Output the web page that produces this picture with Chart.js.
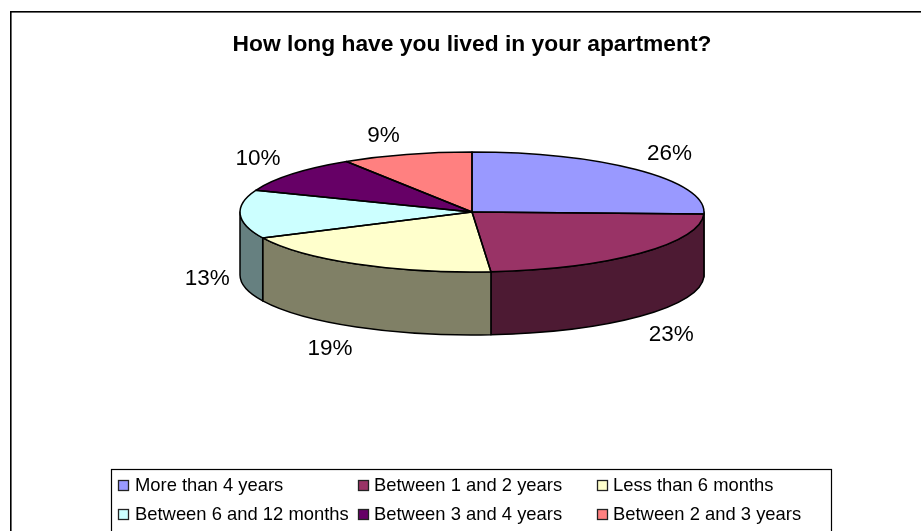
<!DOCTYPE html>
<html><head><meta charset="utf-8">
<style>html,body{margin:0;padding:0;background:#fff;overflow:hidden}canvas{display:block}</style>
<script src="https://cdn.jsdelivr.net/npm/chart.js@4"></script></head>
<body><div style="width:921px;height:531px;position:relative"><canvas id="c"></canvas></div>
<script>
const chartTitle = 'How long have you lived in your apartment?';
const categories = ['More than 4 years','Between 1 and 2 years','Less than 6 months','Between 6 and 12 months','Between 3 and 4 years','Between 2 and 3 years'];
const shares = [25.5,23.2,19.2,13.0,10.0,9.1];
const faceColors = ['#9999FF','#993366','#FFFFCC','#CCFFFF','#660066','#FF8080'];
const wallColors = ['#4D4D80','#4D1A33','#808066','#668080','#330033','#804040'];

const FONT = '"Liberation Sans", Arial, sans-serif';
const CX = 472, CY = 212, RX = 232, RY = 60, DEPTH = 63;
const LABEL_RX = 275, LABEL_RY = 84;
const labelNudges = [[0,0],[0,2],[-5,1],[10,1],[-1,0],[-11,4]];

function ellipseSeg(ctx, y, a, b, ccw){ ctx.ellipse(CX, y, RX, RY, 0, a, b, !!ccw); }

const pie3d = {
  id:'pie3d',
  beforeDraw(chart){
    const ctx = chart.ctx;
    ctx.save();
    ctx.strokeStyle = '#000'; ctx.lineWidth = 1.6;
    ctx.strokeRect(10.8, 11.8, 1000, 1000);
    ctx.restore();
  },
  beforeDatasetDraw(chart){
    const ctx = chart.ctx, arcs = chart.getDatasetMeta(0).data;
    const tau = Math.PI*2;
    // side walls: only the part of each slice in the front half of the ellipse
    ctx.save();
    ctx.lineWidth = 1.5; ctx.strokeStyle = '#000'; ctx.lineJoin='round';
    arcs.forEach((arc,i)=>{
      const p = arc.getProps(['startAngle','endAngle'], true);
      for (const k of [0, tau]) {
        const a = Math.max(p.startAngle + k, 0), b = Math.min(p.endAngle + k, Math.PI);
        if (b <= a) continue;
        ctx.beginPath();
        ellipseSeg(ctx, CY, a, b);
        ellipseSeg(ctx, CY+DEPTH, b, a, true);
        ctx.closePath();
        ctx.fillStyle = wallColors[i];
        ctx.fill(); ctx.stroke();
      }
    });
    ctx.restore();
    // flatten the library's arcs on to the top ellipse
    const a0 = arcs[0];
    ctx.save();
    ctx.translate(CX, CY);
    ctx.scale(RX/a0.outerRadius, RY/a0.outerRadius);
    ctx.translate(-a0.x, -a0.y);
  },
  afterDatasetDraw(chart){
    const ctx = chart.ctx, arcs = chart.getDatasetMeta(0).data;
    ctx.restore();
    ctx.save();
    ctx.lineWidth = 1.5; ctx.strokeStyle = '#000'; ctx.lineJoin='round';
    arcs.forEach(arc=>{
      const p = arc.getProps(['startAngle','endAngle'], true);
      ctx.beginPath();
      ctx.moveTo(CX, CY);
      ellipseSeg(ctx, CY, p.startAngle, p.endAngle);
      ctx.closePath();
      ctx.stroke();
    });
    // value labels
    ctx.fillStyle = '#000';
    ctx.font = '22.5px ' + FONT;
    ctx.textAlign = 'center'; ctx.textBaseline = 'middle';
    const total = shares.reduce((s,v)=>s+v,0);
    arcs.forEach((arc,i)=>{
      const p = arc.getProps(['startAngle','endAngle'], true);
      const m = (p.startAngle+p.endAngle)/2;
      const s = Math.sin(m);
      const x = CX + LABEL_RX*Math.cos(m) + labelNudges[i][0];
      const y = CY + LABEL_RY*s + (s>0?DEPTH:0) + labelNudges[i][1];
      ctx.fillText(Math.round(shares[i]/total*100)+'%', x, y);
    });
    ctx.restore();
  },
  afterDraw(chart){
    // legend box: three columns, two rows
    const ctx = chart.ctx;
    const L=111.5, T=469.5, R=831.5, B=540;
    const colX=[118,358,597], rowY=[485,514];
    ctx.save();
    ctx.fillStyle='#fff'; ctx.strokeStyle='#000'; ctx.lineWidth=1.2;
    ctx.fillRect(L,T,R-L,B-T); ctx.strokeRect(L,T,R-L,B-T);
    ctx.font='18.4px '+FONT; ctx.textAlign='left'; ctx.textBaseline='middle';
    categories.forEach((c,i)=>{
      const x=colX[i%3], y=rowY[Math.floor(i/3)];
      ctx.fillStyle=faceColors[i];
      ctx.fillRect(x+.5,y-4.5,10,10);
      ctx.strokeStyle='#222'; ctx.lineWidth=1.3;
      ctx.strokeRect(x+.5,y-4.5,10,10);
      ctx.fillStyle='#000';
      ctx.fillText(c,x+17-(i%3?1:0),y+1);
    });
    ctx.restore();
  }
};

new Chart(document.getElementById('c'),{
  type:'pie',
  data:{labels:categories,datasets:[{data:shares,backgroundColor:faceColors,borderWidth:0,clip:false,radius:232}]},
  options:{
    responsive:true,maintainAspectRatio:false,animation:false,
    layout:{padding:{left:23,top:0,right:0,bottom:0}},
    plugins:{
      legend:{display:false},
      tooltip:{enabled:false},
      title:{display:true,text:chartTitle,color:'#000',font:{family:FONT,size:22.8,weight:'bold'},padding:{top:31,bottom:10}}
    }
  },
  plugins:[pie3d]
});
</script></body></html>
